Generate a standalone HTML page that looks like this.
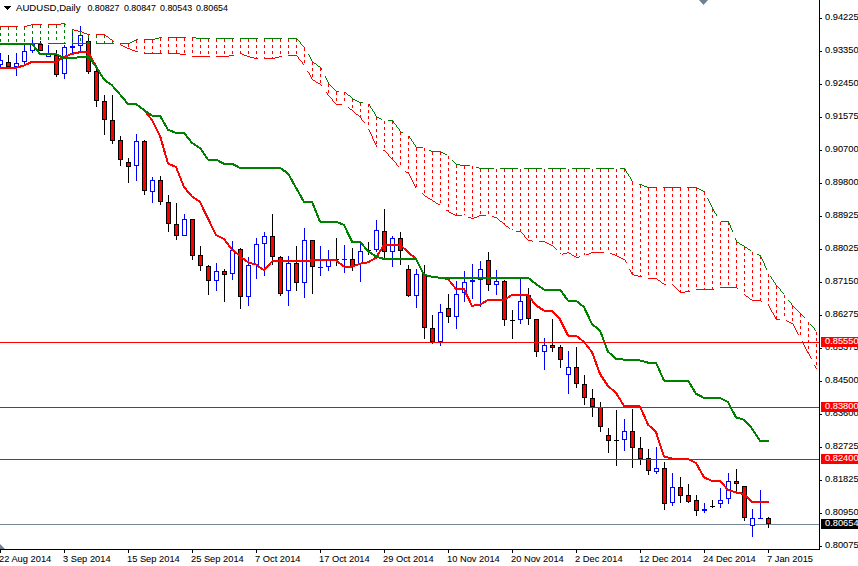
<!DOCTYPE html><html><head><meta charset="utf-8"><title>AUDUSD Daily</title><style>
html,body{margin:0;padding:0;background:#fff}
#c{position:relative;width:858px;height:566px;overflow:hidden;background:#fff;font-family:"Liberation Sans",sans-serif;font-size:9.3px;color:#000;line-height:11px;white-space:nowrap;-webkit-text-stroke:0.07px #000}
#c span{position:absolute;display:block}
.pl{left:825px;height:11px}
.bx{left:821px;width:37px;height:10px;color:#fff;-webkit-text-stroke:0.07px #fff}
.bx i{position:absolute;left:4px;top:-1px;font-style:normal}
.dl{top:554px}
</style></head><body><div id="c">
<svg width="858" height="566" viewBox="0 0 858 566" shape-rendering="crispEdges" style="position:absolute;left:0;top:0"><defs><clipPath id="cp"><rect x="0" y="0" width="819" height="549"/></clipPath></defs><g clip-path="url(#cp)"><rect x="0" y="524" width="819" height="1" fill="#778899"/><g id="candles"><rect x="0" y="53" width="1" height="15" fill="#0000ff"/><rect x="-2" y="60" width="5" height="5" fill="#0000ff"/><rect x="-1" y="61" width="3" height="3" fill="#ffffff"/><rect x="8" y="55" width="1" height="12" fill="#000000"/><rect x="6" y="62" width="5" height="5" fill="#000000"/><rect x="7" y="63" width="3" height="3" fill="#ff0000"/><rect x="16" y="53" width="1" height="23" fill="#0000ff"/><rect x="14" y="63" width="5" height="4" fill="#0000ff"/><rect x="15" y="64" width="3" height="2" fill="#ffffff"/><rect x="24" y="44" width="1" height="21" fill="#0000ff"/><rect x="22" y="51" width="5" height="11" fill="#0000ff"/><rect x="23" y="52" width="3" height="9" fill="#ffffff"/><rect x="32" y="39" width="1" height="14" fill="#0000ff"/><rect x="30" y="44" width="5" height="7" fill="#0000ff"/><rect x="31" y="45" width="3" height="5" fill="#ffffff"/><rect x="40" y="41" width="1" height="10" fill="#000000"/><rect x="38" y="44" width="5" height="7" fill="#000000"/><rect x="39" y="45" width="3" height="5" fill="#ff0000"/><rect x="48" y="45" width="1" height="12" fill="#0000ff"/><rect x="46" y="54" width="5" height="3" fill="#0000ff"/><rect x="47" y="55" width="3" height="1" fill="#ffffff"/><rect x="56" y="50" width="1" height="27" fill="#000000"/><rect x="54" y="55" width="5" height="20" fill="#000000"/><rect x="55" y="56" width="3" height="18" fill="#ff0000"/><rect x="64" y="45" width="1" height="34" fill="#0000ff"/><rect x="62" y="47" width="5" height="27" fill="#0000ff"/><rect x="63" y="48" width="3" height="25" fill="#ffffff"/><rect x="72" y="30" width="1" height="23" fill="#0000ff"/><rect x="70" y="46" width="5" height="2" fill="#0000ff"/><rect x="80" y="26" width="1" height="26" fill="#0000ff"/><rect x="78" y="35" width="5" height="11" fill="#0000ff"/><rect x="79" y="36" width="3" height="9" fill="#ffffff"/><rect x="88" y="35" width="1" height="39" fill="#000000"/><rect x="86" y="41" width="5" height="31" fill="#000000"/><rect x="87" y="42" width="3" height="29" fill="#ff0000"/><rect x="96" y="69" width="1" height="38" fill="#000000"/><rect x="94" y="71" width="5" height="30" fill="#000000"/><rect x="95" y="72" width="3" height="28" fill="#ff0000"/><rect x="104" y="95" width="1" height="40" fill="#000000"/><rect x="102" y="101" width="5" height="19" fill="#000000"/><rect x="103" y="102" width="3" height="17" fill="#ff0000"/><rect x="112" y="95" width="1" height="49" fill="#000000"/><rect x="110" y="120" width="5" height="21" fill="#000000"/><rect x="111" y="121" width="3" height="19" fill="#ff0000"/><rect x="120" y="136" width="1" height="30" fill="#000000"/><rect x="118" y="140" width="5" height="20" fill="#000000"/><rect x="119" y="141" width="3" height="18" fill="#ff0000"/><rect x="128" y="158" width="1" height="25" fill="#000000"/><rect x="126" y="162" width="5" height="5" fill="#000000"/><rect x="127" y="163" width="3" height="3" fill="#ff0000"/><rect x="136" y="134" width="1" height="47" fill="#0000ff"/><rect x="134" y="141" width="5" height="25" fill="#0000ff"/><rect x="135" y="142" width="3" height="23" fill="#ffffff"/><rect x="144" y="140" width="1" height="55" fill="#000000"/><rect x="142" y="141" width="5" height="50" fill="#000000"/><rect x="143" y="142" width="3" height="48" fill="#ff0000"/><rect x="152" y="177" width="1" height="26" fill="#0000ff"/><rect x="150" y="180" width="5" height="12" fill="#0000ff"/><rect x="151" y="181" width="3" height="10" fill="#ffffff"/><rect x="160" y="176" width="1" height="29" fill="#000000"/><rect x="158" y="180" width="5" height="22" fill="#000000"/><rect x="159" y="181" width="3" height="20" fill="#ff0000"/><rect x="168" y="195" width="1" height="37" fill="#000000"/><rect x="166" y="202" width="5" height="22" fill="#000000"/><rect x="167" y="203" width="3" height="20" fill="#ff0000"/><rect x="176" y="203" width="1" height="37" fill="#000000"/><rect x="174" y="224" width="5" height="12" fill="#000000"/><rect x="175" y="225" width="3" height="10" fill="#ff0000"/><rect x="184" y="214" width="1" height="22" fill="#0000ff"/><rect x="182" y="219" width="5" height="17" fill="#0000ff"/><rect x="183" y="220" width="3" height="15" fill="#ffffff"/><rect x="192" y="219" width="1" height="41" fill="#000000"/><rect x="190" y="219" width="5" height="37" fill="#000000"/><rect x="191" y="220" width="3" height="35" fill="#ff0000"/><rect x="200" y="246" width="1" height="25" fill="#000000"/><rect x="198" y="255" width="5" height="11" fill="#000000"/><rect x="199" y="256" width="3" height="9" fill="#ff0000"/><rect x="208" y="265" width="1" height="30" fill="#000000"/><rect x="206" y="266" width="5" height="15" fill="#000000"/><rect x="207" y="267" width="3" height="13" fill="#ff0000"/><rect x="216" y="263" width="1" height="28" fill="#0000ff"/><rect x="214" y="271" width="5" height="10" fill="#0000ff"/><rect x="215" y="272" width="3" height="8" fill="#ffffff"/><rect x="224" y="269" width="1" height="33" fill="#000000"/><rect x="222" y="271" width="5" height="4" fill="#000000"/><rect x="223" y="272" width="3" height="2" fill="#ff0000"/><rect x="232" y="241" width="1" height="39" fill="#0000ff"/><rect x="230" y="250" width="5" height="24" fill="#0000ff"/><rect x="231" y="251" width="3" height="22" fill="#ffffff"/><rect x="240" y="248" width="1" height="61" fill="#000000"/><rect x="238" y="249" width="5" height="48" fill="#000000"/><rect x="239" y="250" width="3" height="46" fill="#ff0000"/><rect x="248" y="257" width="1" height="49" fill="#0000ff"/><rect x="246" y="265" width="5" height="32" fill="#0000ff"/><rect x="247" y="266" width="3" height="30" fill="#ffffff"/><rect x="256" y="238" width="1" height="41" fill="#0000ff"/><rect x="254" y="244" width="5" height="21" fill="#0000ff"/><rect x="255" y="245" width="3" height="19" fill="#ffffff"/><rect x="264" y="232" width="1" height="44" fill="#0000ff"/><rect x="262" y="236" width="5" height="8" fill="#0000ff"/><rect x="263" y="237" width="3" height="6" fill="#ffffff"/><rect x="272" y="214" width="1" height="51" fill="#000000"/><rect x="270" y="236" width="5" height="21" fill="#000000"/><rect x="271" y="237" width="3" height="19" fill="#ff0000"/><rect x="280" y="256" width="1" height="40" fill="#000000"/><rect x="278" y="257" width="5" height="37" fill="#000000"/><rect x="279" y="258" width="3" height="35" fill="#ff0000"/><rect x="288" y="256" width="1" height="50" fill="#0000ff"/><rect x="286" y="263" width="5" height="28" fill="#0000ff"/><rect x="287" y="264" width="3" height="26" fill="#ffffff"/><rect x="296" y="246" width="1" height="45" fill="#000000"/><rect x="294" y="263" width="5" height="20" fill="#000000"/><rect x="295" y="264" width="3" height="18" fill="#ff0000"/><rect x="304" y="228" width="1" height="70" fill="#0000ff"/><rect x="302" y="240" width="5" height="43" fill="#0000ff"/><rect x="303" y="241" width="3" height="41" fill="#ffffff"/><rect x="312" y="240" width="1" height="54" fill="#000000"/><rect x="310" y="240" width="5" height="27" fill="#000000"/><rect x="311" y="241" width="3" height="25" fill="#ff0000"/><rect x="320" y="246" width="1" height="30" fill="#0000ff"/><rect x="318" y="267" width="5" height="1" fill="#0000ff"/><rect x="328" y="250" width="1" height="21" fill="#0000ff"/><rect x="326" y="259" width="5" height="8" fill="#0000ff"/><rect x="327" y="260" width="3" height="6" fill="#ffffff"/><rect x="336" y="238" width="1" height="28" fill="#000000"/><rect x="334" y="259" width="5" height="1" fill="#000000"/><rect x="344" y="245" width="1" height="28" fill="#0000ff"/><rect x="342" y="259" width="5" height="1" fill="#0000ff"/><rect x="352" y="248" width="1" height="23" fill="#000000"/><rect x="350" y="259" width="5" height="8" fill="#000000"/><rect x="351" y="260" width="3" height="6" fill="#ff0000"/><rect x="360" y="244" width="1" height="38" fill="#0000ff"/><rect x="358" y="251" width="5" height="13" fill="#0000ff"/><rect x="359" y="252" width="3" height="11" fill="#ffffff"/><rect x="368" y="242" width="1" height="13" fill="#000000"/><rect x="366" y="250" width="5" height="1" fill="#000000"/><rect x="376" y="220" width="1" height="32" fill="#0000ff"/><rect x="374" y="230" width="5" height="20" fill="#0000ff"/><rect x="375" y="231" width="3" height="18" fill="#ffffff"/><rect x="384" y="209" width="1" height="49" fill="#000000"/><rect x="382" y="231" width="5" height="21" fill="#000000"/><rect x="383" y="232" width="3" height="19" fill="#ff0000"/><rect x="392" y="236" width="1" height="31" fill="#0000ff"/><rect x="390" y="238" width="5" height="14" fill="#0000ff"/><rect x="391" y="239" width="3" height="12" fill="#ffffff"/><rect x="400" y="232" width="1" height="33" fill="#000000"/><rect x="398" y="238" width="5" height="13" fill="#000000"/><rect x="399" y="239" width="3" height="11" fill="#ff0000"/><rect x="408" y="265" width="1" height="32" fill="#000000"/><rect x="406" y="269" width="5" height="27" fill="#000000"/><rect x="407" y="270" width="3" height="25" fill="#ff0000"/><rect x="416" y="269" width="1" height="39" fill="#0000ff"/><rect x="414" y="274" width="5" height="22" fill="#0000ff"/><rect x="415" y="275" width="3" height="20" fill="#ffffff"/><rect x="424" y="265" width="1" height="74" fill="#000000"/><rect x="422" y="274" width="5" height="54" fill="#000000"/><rect x="423" y="275" width="3" height="52" fill="#ff0000"/><rect x="432" y="315" width="1" height="29" fill="#000000"/><rect x="430" y="328" width="5" height="14" fill="#000000"/><rect x="431" y="329" width="3" height="12" fill="#ff0000"/><rect x="440" y="304" width="1" height="42" fill="#0000ff"/><rect x="438" y="312" width="5" height="30" fill="#0000ff"/><rect x="439" y="313" width="3" height="28" fill="#ffffff"/><rect x="448" y="294" width="1" height="29" fill="#000000"/><rect x="446" y="308" width="5" height="9" fill="#000000"/><rect x="447" y="309" width="3" height="7" fill="#ff0000"/><rect x="456" y="281" width="1" height="48" fill="#0000ff"/><rect x="454" y="294" width="5" height="23" fill="#0000ff"/><rect x="455" y="295" width="3" height="21" fill="#ffffff"/><rect x="464" y="271" width="1" height="31" fill="#0000ff"/><rect x="462" y="282" width="5" height="11" fill="#0000ff"/><rect x="463" y="283" width="3" height="9" fill="#ffffff"/><rect x="472" y="264" width="1" height="35" fill="#0000ff"/><rect x="470" y="280" width="5" height="2" fill="#0000ff"/><rect x="480" y="261" width="1" height="46" fill="#0000ff"/><rect x="478" y="269" width="5" height="11" fill="#0000ff"/><rect x="479" y="270" width="3" height="9" fill="#ffffff"/><rect x="488" y="252" width="1" height="39" fill="#000000"/><rect x="486" y="260" width="5" height="25" fill="#000000"/><rect x="487" y="261" width="3" height="23" fill="#ff0000"/><rect x="496" y="270" width="1" height="25" fill="#0000ff"/><rect x="494" y="281" width="5" height="4" fill="#0000ff"/><rect x="495" y="282" width="3" height="2" fill="#ffffff"/><rect x="504" y="280" width="1" height="46" fill="#000000"/><rect x="502" y="281" width="5" height="39" fill="#000000"/><rect x="503" y="282" width="3" height="37" fill="#ff0000"/><rect x="512" y="310" width="1" height="29" fill="#000000"/><rect x="510" y="320" width="5" height="1" fill="#000000"/><rect x="520" y="279" width="1" height="45" fill="#0000ff"/><rect x="518" y="301" width="5" height="19" fill="#0000ff"/><rect x="519" y="302" width="3" height="17" fill="#ffffff"/><rect x="528" y="288" width="1" height="37" fill="#000000"/><rect x="526" y="295" width="5" height="24" fill="#000000"/><rect x="527" y="296" width="3" height="22" fill="#ff0000"/><rect x="536" y="319" width="1" height="38" fill="#000000"/><rect x="534" y="319" width="5" height="33" fill="#000000"/><rect x="535" y="320" width="3" height="31" fill="#ff0000"/><rect x="544" y="338" width="1" height="32" fill="#0000ff"/><rect x="542" y="345" width="5" height="7" fill="#0000ff"/><rect x="543" y="346" width="3" height="5" fill="#ffffff"/><rect x="552" y="319" width="1" height="33" fill="#000000"/><rect x="550" y="345" width="5" height="3" fill="#000000"/><rect x="551" y="346" width="3" height="1" fill="#ff0000"/><rect x="560" y="345" width="1" height="23" fill="#000000"/><rect x="558" y="347" width="5" height="13" fill="#000000"/><rect x="559" y="348" width="3" height="11" fill="#ff0000"/><rect x="568" y="351" width="1" height="43" fill="#0000ff"/><rect x="566" y="367" width="5" height="8" fill="#0000ff"/><rect x="567" y="368" width="3" height="6" fill="#ffffff"/><rect x="576" y="347" width="1" height="41" fill="#000000"/><rect x="574" y="367" width="5" height="17" fill="#000000"/><rect x="575" y="368" width="3" height="15" fill="#ff0000"/><rect x="584" y="375" width="1" height="30" fill="#000000"/><rect x="582" y="384" width="5" height="14" fill="#000000"/><rect x="583" y="385" width="3" height="12" fill="#ff0000"/><rect x="592" y="389" width="1" height="28" fill="#000000"/><rect x="590" y="398" width="5" height="9" fill="#000000"/><rect x="591" y="399" width="3" height="7" fill="#ff0000"/><rect x="600" y="402" width="1" height="30" fill="#000000"/><rect x="598" y="407" width="5" height="20" fill="#000000"/><rect x="599" y="408" width="3" height="18" fill="#ff0000"/><rect x="608" y="428" width="1" height="25" fill="#000000"/><rect x="606" y="435" width="5" height="6" fill="#000000"/><rect x="607" y="436" width="3" height="4" fill="#ff0000"/><rect x="616" y="410" width="1" height="56" fill="#000000"/><rect x="614" y="440" width="5" height="1" fill="#000000"/><rect x="624" y="419" width="1" height="32" fill="#0000ff"/><rect x="622" y="431" width="5" height="9" fill="#0000ff"/><rect x="623" y="432" width="3" height="7" fill="#ffffff"/><rect x="632" y="409" width="1" height="59" fill="#000000"/><rect x="630" y="431" width="5" height="17" fill="#000000"/><rect x="631" y="432" width="3" height="15" fill="#ff0000"/><rect x="640" y="437" width="1" height="28" fill="#000000"/><rect x="638" y="448" width="5" height="11" fill="#000000"/><rect x="639" y="449" width="3" height="9" fill="#ff0000"/><rect x="648" y="449" width="1" height="26" fill="#000000"/><rect x="646" y="458" width="5" height="13" fill="#000000"/><rect x="647" y="459" width="3" height="11" fill="#ff0000"/><rect x="656" y="447" width="1" height="27" fill="#0000ff"/><rect x="654" y="468" width="5" height="4" fill="#0000ff"/><rect x="655" y="469" width="3" height="2" fill="#ffffff"/><rect x="664" y="462" width="1" height="48" fill="#000000"/><rect x="662" y="468" width="5" height="36" fill="#000000"/><rect x="663" y="469" width="3" height="34" fill="#ff0000"/><rect x="672" y="473" width="1" height="33" fill="#0000ff"/><rect x="670" y="487" width="5" height="16" fill="#0000ff"/><rect x="671" y="488" width="3" height="14" fill="#ffffff"/><rect x="680" y="477" width="1" height="26" fill="#000000"/><rect x="678" y="487" width="5" height="9" fill="#000000"/><rect x="679" y="488" width="3" height="7" fill="#ff0000"/><rect x="688" y="484" width="1" height="19" fill="#000000"/><rect x="686" y="495" width="5" height="7" fill="#000000"/><rect x="687" y="496" width="3" height="5" fill="#ff0000"/><rect x="696" y="495" width="1" height="21" fill="#000000"/><rect x="694" y="500" width="5" height="11" fill="#000000"/><rect x="695" y="501" width="3" height="9" fill="#ff0000"/><rect x="704" y="503" width="1" height="10" fill="#0000ff"/><rect x="702" y="509" width="5" height="2" fill="#0000ff"/><rect x="712" y="500" width="1" height="8" fill="#000000"/><rect x="710" y="506" width="5" height="1" fill="#000000"/><rect x="720" y="488" width="1" height="20" fill="#0000ff"/><rect x="718" y="500" width="5" height="4" fill="#0000ff"/><rect x="719" y="501" width="3" height="2" fill="#ffffff"/><rect x="728" y="473" width="1" height="31" fill="#0000ff"/><rect x="726" y="481" width="5" height="18" fill="#0000ff"/><rect x="727" y="482" width="3" height="16" fill="#ffffff"/><rect x="736" y="469" width="1" height="22" fill="#000000"/><rect x="734" y="481" width="5" height="3" fill="#000000"/><rect x="735" y="482" width="3" height="1" fill="#ff0000"/><rect x="744" y="486" width="1" height="35" fill="#000000"/><rect x="742" y="486" width="5" height="32" fill="#000000"/><rect x="743" y="487" width="3" height="30" fill="#ff0000"/><rect x="752" y="509" width="1" height="28" fill="#0000ff"/><rect x="750" y="518" width="5" height="8" fill="#0000ff"/><rect x="751" y="519" width="3" height="6" fill="#ffffff"/><rect x="760" y="490" width="1" height="29" fill="#0000ff"/><rect x="758" y="518" width="5" height="1" fill="#0000ff"/><rect x="768" y="517" width="1" height="11" fill="#000000"/><rect x="766" y="518" width="5" height="6" fill="#000000"/><rect x="767" y="519" width="3" height="4" fill="#ff0000"/></g><path d="M64 24h1v3h-1zM32 25h1v3h-1zM40 25h1v3h-1zM48 25h1v3h-1zM56 25h1v3h-1zM0 27h1v3h-1zM8 27h1v3h-1zM16 27h1v3h-1zM24 27h1v3h-1zM64 30h1v3h-1zM72 30h1v3h-1zM32 31h1v3h-1zM40 31h1v3h-1zM48 31h1v3h-1zM56 31h1v3h-1zM80 32h1v3h-1zM0 33h1v3h-1zM8 33h1v3h-1zM16 33h1v3h-1zM24 33h1v3h-1zM88 35h1v3h-1zM96 35h1v3h-1zM104 35h1v3h-1zM64 36h1v3h-1zM72 36h1v3h-1zM32 37h1v3h-1zM40 37h1v3h-1zM48 37h1v3h-1zM56 37h1v3h-1zM80 38h1v3h-1zM0 39h1v3h-1zM8 39h1v3h-1zM16 39h1v3h-1zM24 39h1v3h-1zM88 41h1v2h-1zM96 41h1v2h-1zM104 41h1v2h-1zM112 41h1v2h-1zM64 42h1v1h-1zM72 42h1v1h-1z" fill="#008000"/><path d="M160 38h1v3h-1zM168 38h1v3h-1zM176 38h1v3h-1zM184 38h1v3h-1zM192 38h1v3h-1zM200 39h1v3h-1zM208 39h1v3h-1zM216 39h1v3h-1zM224 39h1v3h-1zM232 39h1v3h-1zM240 39h1v3h-1zM248 39h1v3h-1zM256 39h1v3h-1zM264 39h1v3h-1zM272 39h1v3h-1zM280 39h1v3h-1zM288 39h1v3h-1zM296 39h1v3h-1zM136 40h1v3h-1zM144 40h1v3h-1zM152 40h1v3h-1zM128 44h1v3h-1zM160 44h1v3h-1zM168 44h1v3h-1zM176 44h1v3h-1zM184 44h1v3h-1zM192 44h1v3h-1zM200 45h1v3h-1zM208 45h1v3h-1zM216 45h1v3h-1zM224 45h1v3h-1zM232 45h1v3h-1zM240 45h1v3h-1zM248 45h1v3h-1zM256 45h1v3h-1zM264 45h1v3h-1zM272 45h1v3h-1zM280 45h1v3h-1zM288 45h1v3h-1zM296 45h1v3h-1zM136 46h1v3h-1zM144 46h1v3h-1zM152 46h1v3h-1zM304 48h1v3h-1zM160 50h1v3h-1zM168 50h1v3h-1zM176 50h1v3h-1zM184 50h1v3h-1zM192 50h1v3h-1zM200 51h1v3h-1zM208 51h1v3h-1zM216 51h1v3h-1zM224 51h1v3h-1zM232 51h1v3h-1zM240 51h1v2h-1zM248 51h1v3h-1zM256 51h1v3h-1zM264 51h1v3h-1zM272 51h1v3h-1zM280 51h1v3h-1zM288 51h1v3h-1zM296 51h1v3h-1zM144 52h1v1h-1zM152 52h1v1h-1zM304 54h1v3h-1zM256 57h1v1h-1zM264 57h1v1h-1zM272 57h1v1h-1zM304 60h1v3h-1zM312 62h1v3h-1zM312 68h1v3h-1zM320 68h1v3h-1zM312 74h1v3h-1zM320 74h1v3h-1zM320 80h1v3h-1zM328 84h1v3h-1zM328 90h1v3h-1zM336 92h1v3h-1zM344 92h1v3h-1zM336 98h1v3h-1zM344 98h1v3h-1zM352 99h1v3h-1zM360 103h1v3h-1zM368 104h1v3h-1zM352 105h1v3h-1zM360 109h1v3h-1zM368 110h1v3h-1zM360 115h1v2h-1zM368 116h1v3h-1zM376 117h1v3h-1zM384 121h1v3h-1zM392 121h1v3h-1zM368 122h1v3h-1zM376 123h1v3h-1zM384 127h1v3h-1zM392 127h1v3h-1zM376 129h1v3h-1zM400 132h1v3h-1zM384 133h1v3h-1zM392 133h1v3h-1zM376 135h1v3h-1zM408 136h1v3h-1zM400 138h1v3h-1zM384 139h1v3h-1zM392 139h1v3h-1zM376 141h1v3h-1zM408 142h1v3h-1zM400 144h1v3h-1zM384 145h1v3h-1zM392 145h1v3h-1zM408 148h1v3h-1zM416 148h1v3h-1zM424 148h1v3h-1zM400 150h1v3h-1zM392 151h1v3h-1zM432 152h1v3h-1zM440 152h1v3h-1zM408 154h1v3h-1zM416 154h1v3h-1zM424 154h1v3h-1zM400 156h1v3h-1zM448 156h1v3h-1zM392 157h1v2h-1zM432 158h1v3h-1zM440 158h1v3h-1zM408 160h1v3h-1zM416 160h1v3h-1zM424 160h1v3h-1zM400 162h1v3h-1zM448 162h1v3h-1zM432 164h1v3h-1zM440 164h1v3h-1zM456 165h1v3h-1zM408 166h1v3h-1zM416 166h1v3h-1zM424 166h1v3h-1zM464 166h1v3h-1zM472 166h1v3h-1zM448 168h1v3h-1zM480 169h1v3h-1zM488 169h1v3h-1zM496 169h1v3h-1zM504 169h1v3h-1zM512 169h1v3h-1zM520 169h1v3h-1zM528 169h1v3h-1zM536 169h1v3h-1zM544 169h1v3h-1zM552 169h1v3h-1zM560 169h1v3h-1zM568 169h1v3h-1zM576 169h1v3h-1zM584 169h1v3h-1zM592 169h1v3h-1zM600 169h1v3h-1zM608 169h1v3h-1zM616 169h1v3h-1zM624 169h1v3h-1zM432 170h1v3h-1zM440 170h1v3h-1zM456 171h1v3h-1zM408 172h1v1h-1zM416 172h1v3h-1zM424 172h1v3h-1zM464 172h1v3h-1zM472 172h1v3h-1zM448 174h1v3h-1zM480 175h1v3h-1zM488 175h1v3h-1zM496 175h1v3h-1zM504 175h1v3h-1zM512 175h1v3h-1zM520 175h1v3h-1zM528 175h1v3h-1zM536 175h1v3h-1zM544 175h1v3h-1zM552 175h1v3h-1zM560 175h1v3h-1zM568 175h1v3h-1zM576 175h1v3h-1zM584 175h1v3h-1zM592 175h1v3h-1zM600 175h1v3h-1zM608 175h1v3h-1zM616 175h1v3h-1zM624 175h1v3h-1zM432 176h1v3h-1zM440 176h1v3h-1zM456 177h1v3h-1zM416 178h1v3h-1zM424 178h1v3h-1zM464 178h1v3h-1zM472 178h1v3h-1zM448 180h1v3h-1zM480 181h1v3h-1zM488 181h1v3h-1zM496 181h1v3h-1zM504 181h1v3h-1zM512 181h1v3h-1zM520 181h1v3h-1zM528 181h1v3h-1zM536 181h1v3h-1zM544 181h1v3h-1zM552 181h1v3h-1zM560 181h1v3h-1zM568 181h1v3h-1zM576 181h1v3h-1zM584 181h1v3h-1zM592 181h1v3h-1zM600 181h1v3h-1zM608 181h1v3h-1zM616 181h1v3h-1zM624 181h1v3h-1zM432 182h1v3h-1zM440 182h1v3h-1zM632 182h1v3h-1zM456 183h1v3h-1zM416 184h1v3h-1zM424 184h1v3h-1zM464 184h1v3h-1zM472 184h1v3h-1zM640 185h1v3h-1zM448 186h1v3h-1zM480 187h1v3h-1zM488 187h1v3h-1zM496 187h1v3h-1zM504 187h1v3h-1zM512 187h1v3h-1zM520 187h1v3h-1zM528 187h1v3h-1zM536 187h1v3h-1zM544 187h1v3h-1zM552 187h1v3h-1zM560 187h1v3h-1zM568 187h1v3h-1zM576 187h1v3h-1zM584 187h1v3h-1zM592 187h1v3h-1zM600 187h1v3h-1zM608 187h1v3h-1zM616 187h1v3h-1zM624 187h1v3h-1zM432 188h1v3h-1zM440 188h1v3h-1zM632 188h1v3h-1zM648 188h1v3h-1zM656 188h1v3h-1zM664 188h1v3h-1zM672 188h1v3h-1zM680 188h1v3h-1zM688 188h1v3h-1zM696 188h1v3h-1zM456 189h1v3h-1zM424 190h1v3h-1zM464 190h1v3h-1zM472 190h1v3h-1zM640 191h1v3h-1zM448 192h1v3h-1zM704 192h1v3h-1zM480 193h1v3h-1zM488 193h1v3h-1zM496 193h1v3h-1zM504 193h1v3h-1zM512 193h1v3h-1zM520 193h1v3h-1zM528 193h1v3h-1zM536 193h1v3h-1zM544 193h1v3h-1zM552 193h1v3h-1zM560 193h1v3h-1zM568 193h1v3h-1zM576 193h1v3h-1zM584 193h1v3h-1zM592 193h1v3h-1zM600 193h1v3h-1zM608 193h1v3h-1zM616 193h1v3h-1zM624 193h1v3h-1zM432 194h1v3h-1zM440 194h1v3h-1zM632 194h1v3h-1zM648 194h1v3h-1zM656 194h1v3h-1zM664 194h1v3h-1zM672 194h1v3h-1zM680 194h1v3h-1zM688 194h1v3h-1zM696 194h1v3h-1zM456 195h1v3h-1zM464 196h1v3h-1zM472 196h1v3h-1zM640 197h1v3h-1zM448 198h1v3h-1zM704 198h1v3h-1zM480 199h1v3h-1zM488 199h1v3h-1zM496 199h1v3h-1zM504 199h1v3h-1zM512 199h1v3h-1zM520 199h1v3h-1zM528 199h1v3h-1zM536 199h1v3h-1zM544 199h1v3h-1zM552 199h1v3h-1zM560 199h1v3h-1zM568 199h1v3h-1zM576 199h1v3h-1zM584 199h1v3h-1zM592 199h1v3h-1zM600 199h1v3h-1zM608 199h1v3h-1zM616 199h1v3h-1zM624 199h1v3h-1zM440 200h1v3h-1zM632 200h1v3h-1zM648 200h1v3h-1zM656 200h1v3h-1zM664 200h1v3h-1zM672 200h1v3h-1zM680 200h1v3h-1zM688 200h1v3h-1zM696 200h1v3h-1zM456 201h1v3h-1zM464 202h1v3h-1zM472 202h1v3h-1zM640 203h1v3h-1zM448 204h1v3h-1zM704 204h1v3h-1zM480 205h1v3h-1zM488 205h1v3h-1zM496 205h1v3h-1zM504 205h1v3h-1zM512 205h1v3h-1zM520 205h1v3h-1zM528 205h1v3h-1zM536 205h1v3h-1zM544 205h1v3h-1zM552 205h1v3h-1zM560 205h1v3h-1zM568 205h1v3h-1zM576 205h1v3h-1zM584 205h1v3h-1zM592 205h1v3h-1zM600 205h1v3h-1zM608 205h1v3h-1zM616 205h1v3h-1zM624 205h1v3h-1zM632 206h1v3h-1zM648 206h1v3h-1zM656 206h1v3h-1zM664 206h1v3h-1zM672 206h1v3h-1zM680 206h1v3h-1zM688 206h1v3h-1zM696 206h1v3h-1zM456 207h1v3h-1zM464 208h1v3h-1zM472 208h1v3h-1zM640 209h1v3h-1zM712 209h1v3h-1zM448 210h1v1h-1zM704 210h1v3h-1zM480 211h1v3h-1zM488 211h1v3h-1zM496 211h1v3h-1zM504 211h1v3h-1zM512 211h1v3h-1zM520 211h1v3h-1zM528 211h1v3h-1zM536 211h1v3h-1zM544 211h1v3h-1zM552 211h1v3h-1zM560 211h1v3h-1zM568 211h1v3h-1zM576 211h1v3h-1zM584 211h1v3h-1zM592 211h1v3h-1zM600 211h1v3h-1zM608 211h1v3h-1zM616 211h1v3h-1zM624 211h1v3h-1zM632 212h1v3h-1zM648 212h1v3h-1zM656 212h1v3h-1zM664 212h1v3h-1zM672 212h1v3h-1zM680 212h1v3h-1zM688 212h1v3h-1zM696 212h1v3h-1zM456 213h1v2h-1zM464 214h1v1h-1zM472 214h1v3h-1zM640 215h1v3h-1zM712 215h1v3h-1zM704 216h1v3h-1zM504 217h1v3h-1zM512 217h1v3h-1zM520 217h1v3h-1zM528 217h1v3h-1zM536 217h1v3h-1zM544 217h1v3h-1zM552 217h1v3h-1zM560 217h1v3h-1zM568 217h1v3h-1zM576 217h1v3h-1zM584 217h1v3h-1zM592 217h1v3h-1zM600 217h1v3h-1zM608 217h1v3h-1zM616 217h1v3h-1zM624 217h1v3h-1zM632 218h1v3h-1zM648 218h1v3h-1zM656 218h1v3h-1zM664 218h1v3h-1zM672 218h1v3h-1zM680 218h1v3h-1zM688 218h1v3h-1zM696 218h1v3h-1zM640 221h1v3h-1zM712 221h1v3h-1zM704 222h1v3h-1zM720 222h1v3h-1zM728 222h1v3h-1zM504 223h1v1h-1zM512 223h1v3h-1zM520 223h1v3h-1zM528 223h1v3h-1zM536 223h1v3h-1zM544 223h1v3h-1zM552 223h1v3h-1zM560 223h1v3h-1zM568 223h1v3h-1zM576 223h1v3h-1zM584 223h1v3h-1zM592 223h1v3h-1zM600 223h1v3h-1zM608 223h1v3h-1zM616 223h1v3h-1zM624 223h1v3h-1zM632 224h1v3h-1zM648 224h1v3h-1zM656 224h1v3h-1zM664 224h1v3h-1zM672 224h1v3h-1zM680 224h1v3h-1zM688 224h1v3h-1zM696 224h1v3h-1zM640 227h1v3h-1zM712 227h1v3h-1zM704 228h1v3h-1zM720 228h1v3h-1zM728 228h1v3h-1zM512 229h1v1h-1zM520 229h1v2h-1zM528 229h1v3h-1zM536 229h1v3h-1zM544 229h1v3h-1zM552 229h1v3h-1zM560 229h1v3h-1zM568 229h1v3h-1zM576 229h1v3h-1zM584 229h1v3h-1zM592 229h1v3h-1zM600 229h1v3h-1zM608 229h1v3h-1zM616 229h1v3h-1zM624 229h1v3h-1zM632 230h1v3h-1zM648 230h1v3h-1zM656 230h1v3h-1zM664 230h1v3h-1zM672 230h1v3h-1zM680 230h1v3h-1zM688 230h1v3h-1zM696 230h1v3h-1zM640 233h1v3h-1zM712 233h1v3h-1zM704 234h1v3h-1zM720 234h1v3h-1zM728 234h1v3h-1zM528 235h1v3h-1zM536 235h1v3h-1zM544 235h1v3h-1zM552 235h1v3h-1zM560 235h1v3h-1zM568 235h1v3h-1zM576 235h1v3h-1zM584 235h1v3h-1zM592 235h1v3h-1zM600 235h1v3h-1zM608 235h1v3h-1zM616 235h1v3h-1zM624 235h1v3h-1zM632 236h1v3h-1zM648 236h1v3h-1zM656 236h1v3h-1zM664 236h1v3h-1zM672 236h1v3h-1zM680 236h1v3h-1zM688 236h1v3h-1zM696 236h1v3h-1zM640 239h1v3h-1zM712 239h1v3h-1zM704 240h1v3h-1zM720 240h1v3h-1zM728 240h1v3h-1zM552 241h1v3h-1zM560 241h1v3h-1zM568 241h1v3h-1zM576 241h1v3h-1zM584 241h1v3h-1zM592 241h1v3h-1zM600 241h1v3h-1zM608 241h1v3h-1zM616 241h1v3h-1zM624 241h1v3h-1zM632 242h1v3h-1zM648 242h1v3h-1zM656 242h1v3h-1zM664 242h1v3h-1zM672 242h1v3h-1zM680 242h1v3h-1zM688 242h1v3h-1zM696 242h1v3h-1zM736 242h1v3h-1zM640 245h1v3h-1zM712 245h1v3h-1zM704 246h1v3h-1zM720 246h1v3h-1zM728 246h1v3h-1zM560 247h1v3h-1zM568 247h1v3h-1zM576 247h1v3h-1zM584 247h1v3h-1zM592 247h1v3h-1zM600 247h1v3h-1zM608 247h1v3h-1zM616 247h1v3h-1zM624 247h1v3h-1zM744 247h1v3h-1zM632 248h1v3h-1zM648 248h1v3h-1zM656 248h1v3h-1zM664 248h1v3h-1zM672 248h1v3h-1zM680 248h1v3h-1zM688 248h1v3h-1zM696 248h1v3h-1zM736 248h1v3h-1zM640 251h1v3h-1zM712 251h1v3h-1zM704 252h1v3h-1zM720 252h1v3h-1zM728 252h1v3h-1zM752 252h1v3h-1zM560 253h1v1h-1zM576 253h1v3h-1zM584 253h1v2h-1zM616 253h1v2h-1zM624 253h1v3h-1zM744 253h1v3h-1zM632 254h1v3h-1zM648 254h1v3h-1zM656 254h1v3h-1zM664 254h1v3h-1zM672 254h1v3h-1zM680 254h1v3h-1zM688 254h1v3h-1zM696 254h1v3h-1zM736 254h1v3h-1zM760 256h1v3h-1zM640 257h1v3h-1zM712 257h1v3h-1zM704 258h1v3h-1zM720 258h1v3h-1zM728 258h1v3h-1zM752 258h1v3h-1zM744 259h1v3h-1zM632 260h1v3h-1zM648 260h1v3h-1zM656 260h1v3h-1zM664 260h1v3h-1zM672 260h1v3h-1zM680 260h1v3h-1zM688 260h1v3h-1zM696 260h1v3h-1zM736 260h1v3h-1zM760 262h1v3h-1zM640 263h1v3h-1zM712 263h1v3h-1zM704 264h1v3h-1zM720 264h1v3h-1zM728 264h1v3h-1zM752 264h1v3h-1zM744 265h1v3h-1zM632 266h1v3h-1zM648 266h1v3h-1zM656 266h1v3h-1zM664 266h1v3h-1zM672 266h1v3h-1zM680 266h1v3h-1zM688 266h1v3h-1zM696 266h1v3h-1zM736 266h1v3h-1zM760 268h1v3h-1zM640 269h1v3h-1zM712 269h1v3h-1zM704 270h1v3h-1zM720 270h1v3h-1zM728 270h1v3h-1zM752 270h1v3h-1zM744 271h1v3h-1zM632 272h1v2h-1zM648 272h1v3h-1zM656 272h1v3h-1zM664 272h1v3h-1zM672 272h1v3h-1zM680 272h1v3h-1zM688 272h1v3h-1zM696 272h1v3h-1zM736 272h1v3h-1zM760 274h1v3h-1zM768 274h1v3h-1zM640 275h1v1h-1zM712 275h1v3h-1zM704 276h1v3h-1zM720 276h1v3h-1zM728 276h1v3h-1zM752 276h1v3h-1zM744 277h1v3h-1zM664 278h1v3h-1zM672 278h1v3h-1zM680 278h1v3h-1zM688 278h1v3h-1zM696 278h1v3h-1zM736 278h1v3h-1zM760 280h1v3h-1zM768 280h1v3h-1zM712 281h1v3h-1zM704 282h1v3h-1zM720 282h1v3h-1zM728 282h1v3h-1zM752 282h1v3h-1zM744 283h1v3h-1zM680 284h1v3h-1zM688 284h1v3h-1zM696 284h1v3h-1zM736 284h1v3h-1zM760 286h1v3h-1zM768 286h1v3h-1zM776 286h1v3h-1zM712 287h1v2h-1zM704 288h1v1h-1zM752 288h1v3h-1zM744 289h1v3h-1zM680 290h1v2h-1zM688 290h1v1h-1zM760 292h1v3h-1zM768 292h1v3h-1zM776 292h1v3h-1zM752 294h1v3h-1zM784 295h1v3h-1zM760 298h1v2h-1zM768 298h1v3h-1zM776 298h1v3h-1zM784 301h1v3h-1zM768 304h1v1h-1zM776 304h1v3h-1zM792 306h1v3h-1zM784 307h1v3h-1zM776 310h1v3h-1zM792 312h1v3h-1zM784 313h1v3h-1zM800 314h1v3h-1zM776 316h1v3h-1zM792 318h1v3h-1zM800 320h1v3h-1zM808 322h1v3h-1zM800 326h1v3h-1zM808 328h1v3h-1zM800 332h1v3h-1zM816 332h1v3h-1zM808 334h1v3h-1zM816 338h1v3h-1zM808 340h1v3h-1zM816 344h1v3h-1zM808 346h1v3h-1zM816 350h1v3h-1zM808 352h1v1h-1zM816 356h1v3h-1zM816 362h1v3h-1zM816 368h1v1h-1z" fill="#ff0000"/><path d="M61 23h4v1h-4zM31 24h11v1h-11zM48 24h13v1h-13zM65 24h1v1h-1zM27 25h4v1h-4zM0 26h18v1h-18zM24 26h3v1h-3zM72 29h2v1h-2zM74 30h4v1h-4zM78 31h4v1h-4zM82 32h2v1h-2zM84 33h3v1h-3zM87 34h3v1h-3zM96 34h9v1h-9zM105 35h1v1h-1zM106 36h2v1h-2zM108 37h1v1h-1zM109 38h1v1h-1zM110 39h2v1h-2zM112 40h1v1h-1zM113 41h1v1h-1zM120 44h1v1h-1zM121 45h2v1h-2zM123 46h2v1h-2zM125 47h2v1h-2zM127 48h3v1h-3zM130 49h2v1h-2zM132 50h3v1h-3zM135 51h3v1h-3zM144 53h18v1h-18zM168 53h12v1h-12zM240 53h2v1h-2zM180 54h6v1h-6zM242 54h2v1h-2zM229 55h5v1h-5zM244 55h3v1h-3zM288 55h9v1h-9zM192 56h18v1h-18zM216 56h13v1h-13zM247 56h3v1h-3zM279 56h3v1h-3zM297 56h1v1h-1zM250 57h4v1h-4zM275 57h4v1h-4zM298 57h1v2h-1zM254 58h4v1h-4zM264 58h11v1h-11zM299 59h1v1h-1zM300 60h1v1h-1zM301 61h1v1h-1zM302 62h1v2h-1zM303 64h1v1h-1zM307 71h1v1h-1zM308 72h1v1h-1zM309 73h1v2h-1zM310 75h1v2h-1zM311 77h1v2h-1zM312 79h1v1h-1zM313 80h2v1h-2zM315 81h1v1h-1zM316 82h2v1h-2zM318 83h2v1h-2zM320 84h1v1h-1zM321 85h1v1h-1zM326 92h1v1h-1zM327 93h1v2h-1zM328 95h1v1h-1zM329 96h1v1h-1zM330 97h1v1h-1zM331 98h1v1h-1zM332 99h1v2h-1zM333 101h1v1h-1zM334 102h1v1h-1zM335 103h1v1h-1zM336 104h6v1h-6zM348 107h1v1h-1zM349 108h1v1h-1zM350 109h2v1h-2zM352 110h1v1h-1zM353 111h1v1h-1zM354 112h1v1h-1zM355 113h1v1h-1zM356 114h2v1h-2zM358 115h1v1h-1zM359 116h1v1h-1zM360 117h1v1h-1zM361 118h1v2h-1zM362 120h1v1h-1zM363 121h1v1h-1zM364 122h1v1h-1zM368 129h1v1h-1zM369 130h1v2h-1zM370 132h1v2h-1zM371 134h1v2h-1zM372 136h1v3h-1zM373 139h1v2h-1zM374 141h1v2h-1zM375 143h1v2h-1zM376 145h1v2h-1zM383 150h2v1h-2zM385 151h1v1h-1zM386 152h1v1h-1zM387 153h1v1h-1zM388 154h1v2h-1zM389 156h1v1h-1zM390 157h1v1h-1zM391 158h1v1h-1zM392 159h1v1h-1zM393 160h1v1h-1zM394 161h1v1h-1zM395 162h1v1h-1zM396 163h1v2h-1zM397 165h1v1h-1zM398 166h1v1h-1zM405 171h1v1h-1zM406 172h2v1h-2zM408 173h1v1h-1zM409 174h1v2h-1zM410 176h1v2h-1zM411 178h1v2h-1zM412 180h1v2h-1zM413 182h1v2h-1zM414 184h1v2h-1zM415 186h1v2h-1zM422 193h1v1h-1zM423 194h1v1h-1zM424 195h1v1h-1zM425 196h2v1h-2zM427 197h1v1h-1zM428 198h2v1h-2zM430 199h2v1h-2zM432 200h1v1h-1zM433 201h2v1h-2zM435 202h1v1h-1zM436 203h2v1h-2zM438 204h2v1h-2zM446 210h2v1h-2zM448 211h1v1h-1zM449 212h2v1h-2zM451 213h2v1h-2zM453 214h2v1h-2zM455 215h7v1h-7zM479 215h7v1h-7zM477 216h2v1h-2zM492 216h2v1h-2zM468 217h3v1h-3zM474 217h3v1h-3zM494 217h3v1h-3zM471 218h3v1h-3zM497 218h1v1h-1zM498 219h1v1h-1zM499 220h1v1h-1zM500 221h2v1h-2zM502 222h1v1h-1zM503 223h1v1h-1zM504 224h1v1h-1zM505 225h1v1h-1zM506 226h2v1h-2zM508 227h1v1h-1zM509 228h1v1h-1zM516 231h5v1h-5zM521 232h1v1h-1zM522 233h1v1h-1zM523 234h1v1h-1zM524 235h1v2h-1zM525 237h1v1h-1zM526 238h1v1h-1zM527 239h1v1h-1zM528 240h4v1h-4zM532 241h1v1h-1zM539 241h6v1h-6zM545 242h2v1h-2zM547 243h2v1h-2zM549 244h2v1h-2zM551 245h2v1h-2zM553 246h1v1h-1zM554 247h1v1h-1zM555 248h1v1h-1zM556 249h1v1h-1zM567 252h2v1h-2zM591 252h13v1h-13zM563 253h4v1h-4zM569 253h2v1h-2zM589 253h2v1h-2zM610 253h2v1h-2zM562 254h1v1h-1zM571 254h1v1h-1zM586 254h3v1h-3zM612 254h3v1h-3zM572 255h2v1h-2zM615 255h2v1h-2zM574 256h2v1h-2zM579 256h1v1h-1zM617 256h2v1h-2zM576 257h3v1h-3zM619 257h2v1h-2zM621 258h2v1h-2zM623 259h2v1h-2zM625 260h1v2h-1zM626 262h1v1h-1zM629 269h1v1h-1zM630 270h1v2h-1zM631 272h1v2h-1zM632 274h2v1h-2zM634 275h4v1h-4zM638 276h4v1h-4zM648 278h9v1h-9zM657 279h1v1h-1zM658 280h2v1h-2zM660 281h1v1h-1zM661 282h1v1h-1zM662 283h2v1h-2zM664 284h2v1h-2zM672 284h1v1h-1zM673 285h1v1h-1zM674 286h1v1h-1zM675 287h1v1h-1zM720 287h17v1h-17zM676 288h1v1h-1zM737 288h1v1h-1zM677 289h1v1h-1zM696 289h18v1h-18zM678 290h1v1h-1zM679 291h1v1h-1zM685 291h5v1h-5zM680 292h5v1h-5zM744 294h1v1h-1zM745 295h1v1h-1zM746 296h2v1h-2zM748 297h1v1h-1zM749 298h1v1h-1zM750 299h2v1h-2zM752 300h9v1h-9zM761 301h1v1h-1zM768 305h1v1h-1zM769 306h1v2h-1zM770 308h1v2h-1zM771 310h1v2h-1zM772 312h1v1h-1zM773 313h1v2h-1zM774 315h1v2h-1zM775 317h1v2h-1zM776 319h4v1h-4zM786 320h1v1h-1zM787 321h2v1h-2zM789 322h2v1h-2zM791 323h2v1h-2zM793 324h1v2h-1zM794 326h1v2h-1zM795 328h1v2h-1zM796 330h1v2h-1zM797 332h1v2h-1zM798 334h1v1h-1zM802 341h1v2h-1zM803 343h1v2h-1zM804 345h1v2h-1zM805 347h1v2h-1zM806 349h1v2h-1zM807 351h1v2h-1zM808 353h1v1h-1zM809 354h1v2h-1zM810 356h1v2h-1zM811 358h1v1h-1zM814 365h1v1h-1zM815 366h1v2h-1zM816 368h1v1h-1z" fill="#ff0000"/><path d="M159 37h3v1h-3zM168 37h18v1h-18zM192 37h4v1h-4zM155 38h4v1h-4zM196 38h14v1h-14zM216 38h18v1h-18zM240 38h18v1h-18zM264 38h18v1h-18zM288 38h9v1h-9zM136 39h2v1h-2zM144 39h11v1h-11zM297 39h1v1h-1zM134 40h2v1h-2zM298 40h1v1h-1zM132 41h2v1h-2zM299 41h1v1h-1zM130 42h2v1h-2zM300 42h1v2h-1zM0 43h18v1h-18zM24 43h18v1h-18zM48 43h18v1h-18zM72 43h18v1h-18zM96 43h18v1h-18zM120 43h10v1h-10zM301 44h1v1h-1zM302 45h1v1h-1zM303 46h1v1h-1zM304 47h1v1h-1zM308 54h1v1h-1zM309 55h1v2h-1zM310 57h1v2h-1zM311 59h1v2h-1zM312 61h1v1h-1zM313 62h1v1h-1zM314 63h2v1h-2zM316 64h1v1h-1zM317 65h1v1h-1zM318 66h2v1h-2zM320 67h1v1h-1zM321 68h1v2h-1zM325 76h1v2h-1zM326 78h1v2h-1zM327 80h1v2h-1zM328 82h1v2h-1zM329 84h1v1h-1zM330 85h1v1h-1zM331 86h1v1h-1zM332 87h1v1h-1zM333 88h1v1h-1zM334 89h1v1h-1zM335 90h1v1h-1zM336 91h3v1h-3zM345 92h1v1h-1zM346 93h1v1h-1zM347 94h1v1h-1zM348 95h2v1h-2zM350 96h1v1h-1zM351 97h1v1h-1zM352 98h1v1h-1zM353 99h2v1h-2zM355 100h2v1h-2zM357 101h2v1h-2zM359 102h4v1h-4zM369 104h1v2h-1zM370 106h1v2h-1zM371 108h1v1h-1zM372 109h1v2h-1zM373 111h1v1h-1zM374 112h1v2h-1zM375 114h1v2h-1zM376 116h1v1h-1zM377 117h2v1h-2zM379 118h2v1h-2zM381 119h1v1h-1zM388 120h5v1h-5zM393 121h1v2h-1zM394 123h1v1h-1zM395 124h1v1h-1zM396 125h1v2h-1zM397 127h1v1h-1zM398 128h1v1h-1zM399 129h1v2h-1zM400 131h1v1h-1zM401 132h2v1h-2zM409 136h1v2h-1zM410 138h1v1h-1zM411 139h1v2h-1zM412 141h1v1h-1zM413 142h1v2h-1zM414 144h1v1h-1zM415 145h1v2h-1zM416 147h7v1h-7zM429 150h2v1h-2zM431 151h10v1h-10zM441 152h2v1h-2zM443 153h2v1h-2zM445 154h2v1h-2zM452 160h1v1h-1zM453 161h1v1h-1zM454 162h1v1h-1zM455 163h1v1h-1zM456 164h4v1h-4zM460 165h10v1h-10zM476 167h3v1h-3zM479 168h15v1h-15zM500 168h18v1h-18zM524 168h18v1h-18zM548 168h18v1h-18zM572 168h18v1h-18zM596 168h18v1h-18zM620 168h5v1h-5zM625 169h1v2h-1zM626 171h1v2h-1zM627 173h1v1h-1zM628 174h1v2h-1zM629 176h1v1h-1zM630 177h1v2h-1zM631 179h1v2h-1zM632 181h1v1h-1zM639 184h3v1h-3zM642 185h2v1h-2zM644 186h3v1h-3zM647 187h10v1h-10zM663 187h18v1h-18zM687 187h10v1h-10zM697 188h2v1h-2zM699 189h2v1h-2zM701 190h2v1h-2zM703 191h2v1h-2zM707 198h1v1h-1zM708 199h1v2h-1zM709 201h1v2h-1zM710 203h1v2h-1zM711 205h1v2h-1zM712 207h1v2h-1zM713 209h1v2h-1zM714 211h1v2h-1zM715 213h1v1h-1zM716 214h1v2h-1zM721 221h8v1h-8zM728 222h1v1h-1zM729 223h1v2h-1zM730 225h1v3h-1zM731 228h1v2h-1zM732 230h1v2h-1zM735 238h1v2h-1zM736 240h1v2h-1zM737 242h2v1h-2zM739 243h1v1h-1zM740 244h2v1h-2zM742 245h2v1h-2zM744 246h1v1h-1zM745 247h2v1h-2zM747 248h1v1h-1zM748 249h2v1h-2zM750 250h1v1h-1zM757 254h2v1h-2zM759 255h2v1h-2zM760 256h1v1h-1zM761 257h1v2h-1zM762 259h1v2h-1zM763 261h1v2h-1zM764 263h1v3h-1zM765 266h1v2h-1zM766 268h1v2h-1zM770 276h1v1h-1zM771 277h1v2h-1zM772 279h1v1h-1zM773 280h1v2h-1zM774 282h1v1h-1zM775 283h1v2h-1zM776 285h1v1h-1zM777 286h1v1h-1zM778 287h1v1h-1zM779 288h1v1h-1zM780 289h1v2h-1zM781 291h1v1h-1zM782 292h1v1h-1zM783 293h1v1h-1zM788 300h1v1h-1zM789 301h1v1h-1zM790 302h1v1h-1zM791 303h1v2h-1zM792 305h1v1h-1zM793 306h1v1h-1zM794 307h1v1h-1zM795 308h1v1h-1zM796 309h1v1h-1zM797 310h1v1h-1zM798 311h1v1h-1zM799 312h1v1h-1zM800 313h1v1h-1zM801 314h1v1h-1zM802 315h1v1h-1zM803 316h1v1h-1zM804 317h1v1h-1zM810 324h1v1h-1zM811 325h1v1h-1zM812 326h1v1h-1zM813 327h1v1h-1zM814 328h1v2h-1zM815 330h1v1h-1z" fill="#008000"/><polyline points="0.0,67.9 8.0,67.9 16.0,67.9 24.0,65.5 32.0,61.8 40.0,61.6 48.0,61.6 56.0,61.6 64.0,57.0 72.0,53.8 80.0,52.2 88.0,51.5 96.0,66.5 104.0,79.5 112.0,85.3 120.0,94.5 128.0,104.0 136.0,104.0 144.0,110.0 152.0,120.0 160.0,135.8 168.0,163.5 176.0,167.0 184.0,187.0 192.0,196.5 200.0,202.0 208.0,218.6 216.0,235.0 224.0,239.0 232.0,249.5 240.0,256.0 248.0,262.4 256.0,264.6 264.0,270.2 272.0,261.4 280.0,261.4 288.0,261.4 296.0,261.4 304.0,261.4 312.0,260.3 320.0,260.3 328.0,260.3 336.0,260.3 344.0,266.5 352.0,266.5 360.0,263.7 368.0,262.4 376.0,257.7 384.0,244.9 392.0,244.9 400.0,244.9 408.0,252.0 416.0,259.0 424.0,274.7 432.0,276.8 440.0,277.8 448.0,279.0 456.0,289.0 464.0,289.0 472.0,305.9 480.0,304.6 488.0,300.0 496.0,300.0 504.0,300.0 512.0,295.0 520.0,295.0 528.0,295.0 536.0,305.4 544.0,310.6 552.0,310.6 560.0,319.4 568.0,335.6 576.0,335.6 584.0,342.0 592.0,352.0 600.0,374.0 608.0,386.0 616.0,392.8 624.0,405.9 632.0,406.2 640.0,406.4 648.0,424.6 656.0,432.0 664.0,456.6 672.0,458.6 680.0,458.8 688.0,458.9 696.0,463.0 704.0,477.4 712.0,480.8 720.0,480.8 728.0,489.9 736.0,492.4 744.0,494.0 752.0,501.8 760.0,501.8 768.0,501.8" fill="none" stroke="#ff0000" stroke-width="2" stroke-linejoin="round" stroke-linecap="square"/><polyline points="0.0,43.9 8.0,43.9 16.0,43.9 24.0,43.9 32.0,43.9 40.0,53.8 48.0,53.8 56.0,53.8 64.0,58.5 72.0,58.4 80.0,57.0 88.0,56.4 96.0,66.5 104.0,79.5 112.0,85.3 120.0,94.5 128.0,104.0 136.0,104.0 144.0,110.0 152.0,115.6 160.0,115.6 168.0,129.7 176.0,132.8 184.0,132.8 192.0,143.0 200.0,148.0 208.0,159.6 216.0,159.6 224.0,163.7 232.0,163.7 240.0,167.9 248.0,167.9 256.0,167.9 264.0,167.9 272.0,167.9 280.0,167.9 288.0,173.4 296.0,187.7 304.0,201.9 312.0,201.9 320.0,221.6 328.0,221.6 336.0,221.6 344.0,225.0 352.0,241.7 360.0,241.7 368.0,251.3 376.0,256.5 384.0,259.0 392.0,259.0 400.0,259.0 408.0,259.0 416.0,259.0 424.0,274.7 432.0,276.8 440.0,277.8 448.0,277.8 456.0,277.8 464.0,277.8 472.0,277.8 480.0,277.8 488.0,277.8 496.0,277.8 504.0,277.8 512.0,277.8 520.0,277.8 528.0,277.8 536.0,284.0 544.0,289.6 552.0,289.6 560.0,289.6 568.0,300.6 576.0,300.6 584.0,307.2 592.0,324.0 600.0,330.6 608.0,351.7 616.0,358.7 624.0,359.6 632.0,360.0 640.0,360.5 648.0,362.6 656.0,362.6 664.0,380.6 672.0,380.6 680.0,380.6 688.0,380.6 696.0,393.7 704.0,397.9 712.0,397.9 720.0,397.9 728.0,402.0 736.0,417.5 744.0,419.7 752.0,428.5 760.0,440.9 768.0,440.9" fill="none" stroke="#008000" stroke-width="2" stroke-linejoin="round" stroke-linecap="square"/><rect x="0" y="342" width="819" height="1" fill="#ff0000"/><rect x="0" y="407" width="819" height="1" fill="#ff0000"/><rect x="0" y="459" width="819" height="1" fill="#ff0000"/><polygon points="699,0 708,0 703.5,5" fill="#708090" shape-rendering="auto"/><polygon points="0,544 5,549 0,549" fill="#708090" shape-rendering="auto"/></g><rect x="819" y="0" width="1" height="550" fill="#000"/><rect x="0" y="549" width="820" height="1" fill="#000"/><rect x="820" y="18" width="2" height="1" fill="#000"/><rect x="820" y="51" width="2" height="1" fill="#000"/><rect x="820" y="84" width="2" height="1" fill="#000"/><rect x="820" y="117" width="2" height="1" fill="#000"/><rect x="820" y="150" width="2" height="1" fill="#000"/><rect x="820" y="183" width="2" height="1" fill="#000"/><rect x="820" y="216" width="2" height="1" fill="#000"/><rect x="820" y="249" width="2" height="1" fill="#000"/><rect x="820" y="282" width="2" height="1" fill="#000"/><rect x="820" y="315" width="2" height="1" fill="#000"/><rect x="820" y="348" width="2" height="1" fill="#000"/><rect x="820" y="381" width="2" height="1" fill="#000"/><rect x="820" y="414" width="2" height="1" fill="#000"/><rect x="820" y="447" width="2" height="1" fill="#000"/><rect x="820" y="480" width="2" height="1" fill="#000"/><rect x="820" y="513" width="2" height="1" fill="#000"/><rect x="820" y="546" width="2" height="1" fill="#000"/><rect x="0" y="550" width="1" height="3" fill="#000"/><rect x="64" y="550" width="1" height="3" fill="#000"/><rect x="128" y="550" width="1" height="3" fill="#000"/><rect x="192" y="550" width="1" height="3" fill="#000"/><rect x="256" y="550" width="1" height="3" fill="#000"/><rect x="320" y="550" width="1" height="3" fill="#000"/><rect x="384" y="550" width="1" height="3" fill="#000"/><rect x="448" y="550" width="1" height="3" fill="#000"/><rect x="512" y="550" width="1" height="3" fill="#000"/><rect x="576" y="550" width="1" height="3" fill="#000"/><rect x="640" y="550" width="1" height="3" fill="#000"/><rect x="704" y="550" width="1" height="3" fill="#000"/><rect x="768" y="550" width="1" height="3" fill="#000"/><polygon points="3,6 11,6 7,10" fill="#000"/></svg>
<span style="left:16px;top:2px;font-size:9.6px">AUDUSD,Daily</span>
<span style="left:87.4px;top:3px;font-size:8.9px">0.80827</span>
<span style="left:123.9px;top:3px;font-size:8.9px">0.80847</span>
<span style="left:160px;top:3px;font-size:8.9px">0.80543</span>
<span style="left:195.9px;top:3px;font-size:8.9px">0.80654</span>
<span class="pl" style="top:12px">0.94225</span>
<span class="pl" style="top:45px">0.93350</span>
<span class="pl" style="top:78px">0.92450</span>
<span class="pl" style="top:111px">0.91575</span>
<span class="pl" style="top:144px">0.90700</span>
<span class="pl" style="top:177px">0.89800</span>
<span class="pl" style="top:210px">0.88925</span>
<span class="pl" style="top:243px">0.88025</span>
<span class="pl" style="top:276px">0.87150</span>
<span class="pl" style="top:309px">0.86275</span>
<span class="pl" style="top:342px">0.85375</span>
<span class="pl" style="top:375px">0.84500</span>
<span class="pl" style="top:408px">0.83600</span>
<span class="pl" style="top:441px">0.82725</span>
<span class="pl" style="top:474px">0.81825</span>
<span class="pl" style="top:507px">0.80950</span>
<span class="pl" style="top:540px">0.80075</span>
<span class="bx" style="top:337px;background:#ff0000"><i>0.85550</i></span>
<span class="bx" style="top:402px;background:#ff0000"><i>0.83800</i></span>
<span class="bx" style="top:454px;background:#ff0000"><i>0.82400</i></span>
<span class="bx" style="top:519px;background:#000"><i>0.80654</i></span>
<span class="dl" style="left:-1px">22 Aug 2014</span>
<span class="dl" style="left:63px">3 Sep 2014</span>
<span class="dl" style="left:127px">15 Sep 2014</span>
<span class="dl" style="left:191px">25 Sep 2014</span>
<span class="dl" style="left:255px">7 Oct 2014</span>
<span class="dl" style="left:319px">17 Oct 2014</span>
<span class="dl" style="left:383px">29 Oct 2014</span>
<span class="dl" style="left:447px">10 Nov 2014</span>
<span class="dl" style="left:511px">20 Nov 2014</span>
<span class="dl" style="left:575px">2 Dec 2014</span>
<span class="dl" style="left:639px">12 Dec 2014</span>
<span class="dl" style="left:703px">24 Dec 2014</span>
<span class="dl" style="left:767px">7 Jan 2015</span>
</div></body></html>
